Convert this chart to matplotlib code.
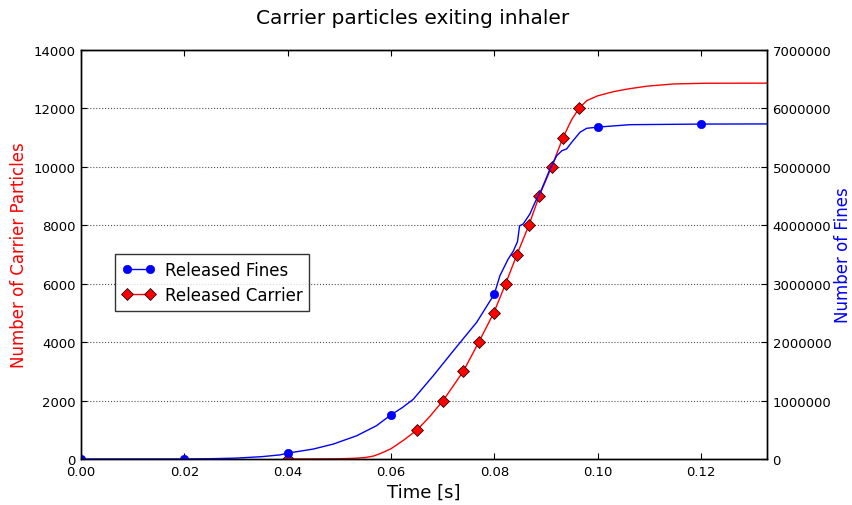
import matplotlib
matplotlib.use("Agg")
import matplotlib.pyplot as plt
from matplotlib.ticker import FormatStrFormatter

# Released carrier particles (left axis)
carrier_t = [0.04, 0.045, 0.05, 0.053, 0.055, 0.0566, 0.058, 0.06, 0.0625, 0.0651,
             0.0676, 0.0701, 0.074, 0.0770, 0.0799, 0.0822, 0.0844, 0.0867, 0.0887,
             0.0911, 0.0933, 0.0950, 0.0964, 0.0979, 0.1000, 0.1031, 0.1060, 0.1095,
             0.1147, 0.1211, 0.1328]
carrier_n = [0, 2, 8, 25, 50, 100, 190, 350, 650, 1000,
             1470, 2000, 3000, 4000, 5000, 6000, 7000, 8000, 9000,
             10000, 11000, 11620, 12000, 12266, 12430, 12575, 12670, 12760,
             12838, 12862, 12865]
carrier_marks = [0.04, 0.0651, 0.0701, 0.074, 0.0770, 0.0799, 0.0822, 0.0844,
                 0.0867, 0.0887, 0.0911, 0.0933, 0.0964]

# Released fines (right axis)
fines_t = [0.0, 0.02, 0.025, 0.03, 0.035, 0.0385, 0.04, 0.045, 0.0489, 0.0534, 0.0572,
           0.06, 0.0622, 0.0643, 0.0682, 0.0721, 0.0766, 0.08, 0.0811, 0.0827, 0.0837,
           0.0845, 0.0849, 0.0856, 0.0869, 0.0879, 0.0892, 0.0908, 0.0921, 0.0931,
           0.094, 0.095, 0.0966, 0.0979, 0.1, 0.1063, 0.12, 0.1328]
fines_n = [0, 0, 5000, 15000, 40000, 70000, 100000, 171000, 257000, 399000, 570000,
           755000, 880000, 1020000, 1426000, 1854000, 2340000, 2820000, 3138000, 3423000,
           3560000, 3720000, 3990000, 4022000, 4194000, 4394000, 4622000, 4964000,
           5192000, 5277000, 5306000, 5421000, 5592000, 5660000, 5680000, 5722000,
           5732000, 5735000]
fines_marks = [0.0, 0.02, 0.04, 0.06, 0.08, 0.10, 0.12]

x_ticks = [0.00, 0.02, 0.04, 0.06, 0.08, 0.10, 0.12]
left_ticks = list(range(0, 14001, 2000))
right_ticks = list(range(0, 7000001, 1000000))

fig = plt.figure(figsize=(8.52, 5.06), dpi=100)
ax = fig.add_axes([81/852, 1-460/506, 686/852, 409/506])
ax2 = ax.twinx()

cm_idx = [carrier_t.index(v) for v in carrier_marks]
fm_idx = [fines_t.index(v) for v in fines_marks]

l1, = ax.plot(carrier_t, carrier_n, color='r', lw=1.0, marker='D', markersize=6.5,
              markeredgecolor='k', markeredgewidth=0.5, markevery=cm_idx,
              label='Released Carrier')
l2, = ax2.plot(fines_t, fines_n, color='b', lw=1.0, marker='o', markersize=6,
               markeredgecolor='b', markeredgewidth=0.5, markevery=fm_idx,
               label='Released Fines')

ax.set_xlim(0, 0.1328)
ax.set_ylim(0, 14000)
ax2.set_ylim(0, 7000000)
ax.set_xticks(x_ticks)
ax.xaxis.set_major_formatter(FormatStrFormatter('%.2f'))
ax.set_yticks(left_ticks)
ax2.set_yticks(right_ticks)
ax2.ticklabel_format(axis='y', style='plain', useOffset=False)

ax.yaxis.grid(True, linestyle=':', color='#555555', linewidth=0.8)
for a in (ax, ax2):
    a.tick_params(direction='in', labelsize=9.5, length=4, width=0.8)
    for s in a.spines.values():
        s.set_linewidth(1.0)
ax.tick_params(axis='x', top=True, pad=4.5)
ax.tick_params(axis='y', right=False, pad=4)
ax2.tick_params(axis='y', pad=4)

ax.set_xlabel('Time [s]', fontsize=13, labelpad=3)
ax.set_ylabel('Number of Carrier Particles', fontsize=12, color='r', labelpad=4)
ax2.set_ylabel('Number of Fines', fontsize=12, color='b', labelpad=2)

fig.text(413/852, 1-19/506, 'Carrier particles exiting inhaler', fontsize=14.5,
         ha='center', va='center')

leg = ax2.legend([l2, l1], ['Released Fines', 'Released Carrier'], loc='upper left',
                 bbox_to_anchor=(0.0496, 0.501), borderaxespad=0, numpoints=2,
                 fancybox=False, fontsize=12, handlelength=2.0, handletextpad=0.6,
                 labelspacing=0.45, borderpad=0.4)
leg.get_frame().set_edgecolor('k')
leg.get_frame().set_linewidth(1.0)

fig.savefig('out.png', dpi=100, facecolor='white')
